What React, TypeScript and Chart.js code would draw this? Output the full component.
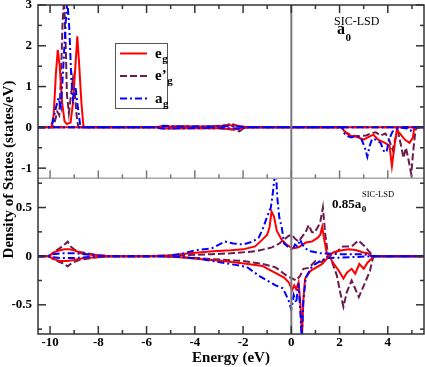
import React, { useEffect, useRef } from 'react';
import { Chart, registerables } from 'chart.js';
Chart.register(...registerables);

type Pt = [number, number];

// ---------- axis ticks ----------
const xMajorTicks = [-10, -8, -6, -4, -2, 0, 2, 4];
const xMinorTicks = [-9, -7, -5, -3, -1, 1, 3, 5];
const topMajorTicks = [-1, 0, 1, 2, 3];
const topMinorTicks = [-0.5, 0.5, 1.5, 2.5];
const botMajorTicks = [-0.5, 0, 0.5];
const botMinorTicks = [-0.75, -0.25, 0.25, 0.75];

// ---------- texts ----------
const xTitle = 'Energy (eV)';
const yTitle = 'Density of States (states/eV)';
const legendMain = ['e', 'e\u2019', 'a'];
const legendSub = ['g', 'g', 'g'];
const topPanelMain = 'a';
const topPanelSub = '0';
const topPanelSup = 'SIC-LSD';
const botPanelMain = '0.85a';
const botPanelSub = '0';
const botPanelSup = 'SIC-LSD';

// ---------- panel a0 (top) : [energy eV, DOS] ----------
const a0EgUp: Pt[] = [[-10.5, 0], [-9.95, 0], [-9.85, 0.3], [-9.76, 1.3], [-9.68, 1.9], [-9.6, 1.5], [-9.5, 0.6], [-9.4, 0.15], [-9.3, 0.08], [-9.15, 0.12], [-9.05, 0.6], [-8.95, 1.5], [-8.87, 2.23], [-8.8, 1.6], [-8.7, 0.6], [-8.62, 0.05], [-8.55, 0], [-5.6, 0], [-5.4, 0.03], [-5.0, 0.02], [-4.5, 0.03], [-4.0, 0.02], [-3.0, 0.03], [-2.6, 0.06], [-2.3, 0.04], [-2.0, 0.02], [-1.8, 0], [5.5, 0]];
const a0EgDn: Pt[] = [[-10.5, 0], [-5.6, 0], [-5.3, -0.03], [-4.5, -0.02], [-3.0, -0.02], [-2.4, -0.05], [-2.1, -0.03], [-1.8, 0], [2.1, 0], [2.2, -0.1], [2.4, -0.2], [2.7, -0.23], [3.0, -0.3], [3.13, -0.26], [3.4, -0.18], [3.6, -0.3], [3.88, -0.38], [4.07, -0.45], [4.17, -0.95], [4.28, -0.45], [4.37, -0.07], [4.5, -0.15], [4.7, -0.3], [4.9, -0.38], [5.04, -0.25], [5.1, 0], [5.5, 0]];
const a0EpgUp: Pt[] = [[-10.5, 0], [-9.9, 0], [-9.8, 0.15], [-9.7, 0.38], [-9.62, 0.3], [-9.55, 1.2], [-9.48, 2.6], [-9.42, 3.1], [-9.36, 2.2], [-9.3, 0.8], [-9.22, 0.35], [-9.15, 0.7], [-9.05, 1.2], [-8.97, 0.8], [-8.9, 0.3], [-8.83, 0], [-5.6, 0], [-5.2, 0.02], [-3.5, 0.02], [-2.7, 0.05], [-2.5, 0.1], [-2.3, 0.05], [-2.0, 0], [5.5, 0]];
const a0EpgDn: Pt[] = [[-10.5, 0], [-5.6, 0], [-5.2, -0.02], [-3.0, -0.02], [-2.3, -0.06], [-2.15, -0.1], [-2.0, -0.03], [-1.8, 0], [2.1, 0], [2.25, -0.12], [2.5, -0.2], [2.8, -0.22], [3.1, -0.2], [3.3, -0.15], [3.5, -0.12], [3.7, -0.2], [3.9, -0.15], [4.05, -0.3], [4.2, -0.55], [4.3, -0.3], [4.42, -0.1], [4.55, -0.45], [4.65, -0.75], [4.75, -0.5], [4.86, -0.8], [4.97, -1.15], [5.05, -0.6], [5.15, -0.05], [5.25, 0], [5.5, 0]];
const a0AgUp: Pt[] = [[-10.5, 0], [-10.05, 0], [-9.9, 0.1], [-9.75, 0.5], [-9.65, 0.72], [-9.55, 0.5], [-9.45, 1.5], [-9.35, 2.6], [-9.28, 3.1], [-9.2, 2.4], [-9.12, 1.2], [-9.05, 0.7], [-8.95, 1.0], [-8.85, 0.5], [-8.75, 0.05], [-8.68, 0], [-5.6, 0], [-5.3, 0.04], [-4.8, 0.02], [-3.5, 0.02], [-2.5, 0.03], [-2.0, 0.01], [-1.8, 0], [5.5, 0]];
const a0AgDn: Pt[] = [[-10.5, 0], [-5.6, 0], [-5.4, -0.03], [-3.0, -0.01], [-2.2, -0.03], [-1.8, 0], [2.1, 0], [2.2, -0.15], [2.35, -0.22], [2.5, -0.25], [2.7, -0.2], [2.9, -0.28], [3.05, -0.5], [3.15, -0.72], [3.25, -0.45], [3.35, -0.28], [3.5, -0.3], [3.7, -0.38], [3.85, -0.6], [3.95, -0.6], [4.05, -0.3], [4.2, -0.1], [4.35, -0.05], [4.5, 0], [4.8, -0.03], [4.95, -0.08], [5.05, 0], [5.5, 0]];

// ---------- panel 0.85 a0 (bottom) ----------
const c85EgUp: Pt[] = [[-10.5, 0], [-10.05, 0], [-9.85, 0.04], [-9.6, 0.06], [-9.4, 0.07], [-9.2, 0.07], [-9.0, 0.06], [-8.6, 0.02], [-8.0, 0.01], [-7.5, 0], [-6.0, 0], [-5.0, 0.01], [-4.2, 0.03], [-3.26, 0.05], [-2.5, 0.06], [-2.0, 0.07], [-1.5, 0.1], [-1.2, 0.17], [-1.0, 0.22], [-0.9, 0.3], [-0.82, 0.46], [-0.72, 0.41], [-0.6, 0.26], [-0.4, 0.17], [-0.2, 0.12], [0.05, 0.08], [0.3, 0.09], [0.6, 0.14], [0.85, 0.15], [1.1, 0.19], [1.2, 0.22], [1.28, 0.3], [1.38, 0.15], [1.48, 0.02], [1.55, 0], [1.75, 0.04], [2.1, 0.06], [2.4, 0.07], [2.7, 0.06], [2.95, 0.04], [3.15, 0.03], [3.35, 0], [5.5, 0]];
const c85EgDn: Pt[] = [[-10.5, 0], [-10.05, 0], [-9.85, -0.03], [-9.6, -0.05], [-9.3, -0.05], [-9.0, -0.04], [-8.6, -0.02], [-8.0, -0.01], [-7.5, 0], [-5.5, 0], [-4.6, -0.01], [-3.8, -0.03], [-2.8, -0.05], [-1.8, -0.08], [-1.2, -0.1], [-0.9, -0.14], [-0.6, -0.18], [-0.3, -0.22], [-0.1, -0.27], [0.03, -0.35], [0.12, -0.3], [0.2, -0.34], [0.3, -0.27], [0.38, -0.5], [0.44, -0.85], [0.5, -0.45], [0.57, -0.23], [0.8, -0.15], [1.28, -0.08], [1.5, -0.02], [1.6, -0.01], [1.76, -0.08], [1.97, -0.15], [2.16, -0.23], [2.3, -0.17], [2.5, -0.13], [2.65, -0.18], [2.82, -0.08], [3.0, -0.13], [3.15, -0.07], [3.3, -0.03], [3.4, 0], [5.5, 0]];
const c85EpgUp: Pt[] = [[-10.5, 0], [-10.05, 0], [-9.8, 0.05], [-9.55, 0.09], [-9.35, 0.13], [-9.27, 0.15], [-9.15, 0.1], [-8.9, 0.05], [-8.5, 0.03], [-8.0, 0.01], [-7.5, 0], [-6.0, 0], [-4.5, 0.01], [-3.3, 0.02], [-2.5, 0.03], [-1.5, 0.05], [-0.8, 0.09], [-0.5, 0.13], [-0.3, 0.17], [-0.1, 0.21], [0.02, 0.22], [0.15, 0.18], [0.3, 0.15], [0.45, 0.2], [0.6, 0.25], [0.72, 0.32], [0.85, 0.25], [0.95, 0.24], [1.1, 0.3], [1.2, 0.35], [1.31, 0.5], [1.4, 0.24], [1.5, 0.05], [1.55, 0], [1.85, 0.04], [2.15, 0.1], [2.5, 0.1], [2.78, 0.16], [3.05, 0.1], [3.25, 0.04], [3.4, 0], [5.5, 0]];
const c85EpgDn: Pt[] = [[-10.5, 0], [-10.05, 0], [-9.8, -0.04], [-9.5, -0.07], [-9.27, -0.105], [-9.1, -0.07], [-8.8, -0.04], [-8.3, -0.02], [-7.8, 0], [-5.5, 0], [-4.5, -0.01], [-3.3, -0.03], [-2.0, -0.05], [-1.2, -0.08], [-0.65, -0.115], [-0.2, -0.2], [0.05, -0.23], [0.2, -0.25], [0.37, -0.2], [0.5, -0.13], [0.73, -0.12], [1.0, -0.05], [1.27, -0.06], [1.4, -0.01], [1.6, 0], [1.89, -0.2], [2.05, -0.4], [2.16, -0.52], [2.3, -0.37], [2.5, -0.25], [2.71, -0.37], [2.8, -0.42], [3.06, -0.27], [3.26, -0.15], [3.4, 0], [5.5, 0]];
const c85AgUp: Pt[] = [[-10.5, 0], [-10.1, 0], [-9.9, 0.02], [-9.5, 0.03], [-9.0, 0.03], [-8.5, 0.02], [-7.8, 0], [-5.2, 0], [-4.6, 0.02], [-4.0, 0.06], [-3.3, 0.08], [-2.75, 0.15], [-2.4, 0.13], [-2.0, 0.12], [-1.6, 0.15], [-1.35, 0.19], [-1.15, 0.3], [-1.0, 0.41], [-0.85, 0.5], [-0.78, 0.62], [-0.7, 0.8], [-0.65, 0.92], [-0.58, 0.6], [-0.5, 0.4], [-0.4, 0.3], [-0.3, 0.13], [-0.15, 0.1], [0.05, 0.06], [0.15, 0.12], [0.25, 0.1], [0.37, 0.17], [0.45, 0.12], [0.58, 0.08], [0.8, 0.05], [1.2, 0.03], [2.0, 0.02], [3.0, 0.02], [3.4, 0], [5.5, 0]];
const c85AgDn: Pt[] = [[-10.5, 0], [-10.1, 0], [-9.9, -0.01], [-9.5, -0.02], [-9.0, -0.02], [-8.5, -0.01], [-7.8, 0], [-5.2, 0], [-4.5, -0.01], [-3.7, -0.03], [-2.9, -0.065], [-1.85, -0.11], [-1.35, -0.2], [-1.0, -0.25], [-0.65, -0.3], [-0.35, -0.33], [-0.12, -0.45], [0.0, -0.55], [0.1, -0.4], [0.2, -0.48], [0.3, -0.28], [0.38, -0.6], [0.43, -0.85], [0.5, -0.45], [0.6, -0.22], [0.87, -0.1], [1.2, -0.05], [1.5, -0.02], [2.5, -0.01], [3.4, 0], [5.5, 0]];

const FONT = "'Liberation Serif', 'Times New Roman', serif";
const RED = '#ff0000';
const PURPLE = '#6a1b4d';
const BLUE = '#0000ff';
const DASH_EPG = [7, 3];
const DASH_AG = [7, 3, 2, 3];

function mk(label: string, pts: Pt[], color: string, dash: number[], yAxisID: string, order: number) {
  return {
    label,
    data: pts.map(([x, y]) => ({ x, y })),
    borderColor: color,
    backgroundColor: color,
    borderWidth: 2,
    borderDash: dash,
    pointRadius: 0,
    tension: 0,
    fill: false,
    yAxisID,
    xAxisID: 'x',
    order,
  };
}

function drawSub(ctx: CanvasRenderingContext2D, main: string, sub: string, x: number, base: number, mainFont: string, subFont: string, subDrop: number) {
  ctx.font = mainFont;
  ctx.textBaseline = 'alphabetic';
  ctx.textAlign = 'left';
  ctx.fillText(main, x, base);
  const w = ctx.measureText(main).width;
  ctx.font = subFont;
  ctx.fillText(sub, x + w + 0.5, base + subDrop);
  return x + w;
}

const decorPlugin = {
  id: 'decor',
  afterDatasetsDraw(chart: any) {
    const { ctx, chartArea: ca, scales } = chart;
    const sx = scales.x, s1 = scales.y1, s2 = scales.y2;
    const line = (a: number, b: number, c: number, d: number) => {
      ctx.beginPath(); ctx.moveTo(a, b); ctx.lineTo(c, d); ctx.stroke();
    };
    ctx.save();
    // E = 0 line
    const x0 = sx.getPixelForValue(0);
    ctx.lineWidth = 2; ctx.strokeStyle = '#7a7a7a';
    line(x0, ca.top, x0, ca.bottom);
    // panel boundary
    const yb = s1.getPixelForValue(s1.min);
    ctx.lineWidth = 1.5; ctx.strokeStyle = '#a8a8a8';
    line(ca.left, yb, ca.right, yb);
    // frame
    ctx.strokeStyle = '#333'; ctx.lineWidth = 1.5;
    ctx.strokeRect(ca.left, ca.top, ca.right - ca.left, ca.bottom - ca.top);
    // x ticks
    const xt = (vals: number[], len: number) => {
      vals.forEach(v => {
        const p = sx.getPixelForValue(v);
        ctx.strokeStyle = '#333';
        line(p, ca.bottom, p, ca.bottom - len);
        line(p, ca.top, p, ca.top + len);
        ctx.strokeStyle = '#777';
        line(p, yb, p, yb - len);
      });
    };
    xt(xMajorTicks, 8); xt(xMinorTicks, 4);
    ctx.strokeStyle = '#333';
    const yt = (s: any, vals: number[], len: number) => {
      vals.forEach(v => {
        const p = s.getPixelForValue(v);
        line(ca.left, p, ca.left + len, p);
        line(ca.right, p, ca.right - len, p);
      });
    };
    yt(s1, topMajorTicks, 8); yt(s1, topMinorTicks, 4);
    yt(s2, botMajorTicks, 8); yt(s2, botMinorTicks, 4);
    ctx.restore();
  },
  afterDraw(chart: any) {
    const { ctx, chartArea: ca } = chart;
    ctx.save();
    ctx.fillStyle = '#000';
    // axis titles
    ctx.font = `bold 15px ${FONT}`;
    ctx.textAlign = 'center';
    ctx.textBaseline = 'alphabetic';
    ctx.fillText(xTitle, (ca.left + ca.right) / 2, 362);
    ctx.save();
    ctx.translate(13, (ca.top + ca.bottom) / 2);
    ctx.rotate(-Math.PI / 2);
    ctx.fillText(yTitle, 0, 0);
    ctx.restore();
    // legend
    const lx = ca.left + 77, ly = ca.top + 38, lw = 52, lh = 65;
    ctx.fillStyle = '#fff';
    ctx.fillRect(lx, ly, lw, lh);
    ctx.strokeStyle = '#555'; ctx.lineWidth = 1;
    ctx.strokeRect(lx + 0.5, ly + 0.5, lw, lh);
    const cols = [RED, PURPLE, BLUE];
    const dashes = [[], DASH_EPG, DASH_AG];
    legendMain.forEach((m, i) => {
      const yy = ly + 10.5 + i * 22.5;
      ctx.strokeStyle = cols[i]; ctx.lineWidth = 2; ctx.setLineDash(dashes[i]);
      ctx.beginPath(); ctx.moveTo(lx + 5, yy); ctx.lineTo(lx + 32, yy); ctx.stroke();
      ctx.setLineDash([]);
      ctx.fillStyle = '#000';
      drawSub(ctx, m, legendSub[i], lx + 40, yy + 4, `bold 15px ${FONT}`, `bold 11px ${FONT}`, 4);
    });
    // panel annotations
    ctx.fillStyle = '#000';
    ctx.font = `12px ${FONT}`; ctx.textAlign = 'left'; ctx.textBaseline = 'alphabetic';
    ctx.fillText(topPanelSup, ca.left + 296, ca.top + 20);
    drawSub(ctx, topPanelMain, topPanelSub, ca.left + 299, ca.top + 28.5, `bold 16px ${FONT}`, `bold 11px ${FONT}`, 7);
    ctx.font = `8.5px ${FONT}`;
    ctx.fillText(botPanelSup, ca.left + 324, ca.top + 192);
    drawSub(ctx, botPanelMain, botPanelSub, ca.left + 294, ca.top + 203, `bold 13px ${FONT}`, `bold 9px ${FONT}`, 4);
    ctx.restore();
  },
};

export default function App() {
  const ref = useRef<HTMLCanvasElement>(null);
  useEffect(() => {
    if (!ref.current) return;
    const tickFont = { family: FONT, size: 13, weight: 'bold' as const };
    const fitY = (s: any) => { s.width = 38; s.paddingTop = 0; s.paddingBottom = 0; };
    const chart = new Chart(ref.current, {
      type: 'line',
      data: {
        datasets: [
          mk('a0 eg up', a0EgUp, RED, [], 'y1', 1),
          mk('a0 eg dn', a0EgDn, RED, [], 'y1', 1),
          mk("a0 e'g up", a0EpgUp, PURPLE, DASH_EPG, 'y1', 2),
          mk("a0 e'g dn", a0EpgDn, PURPLE, DASH_EPG, 'y1', 2),
          mk('a0 ag up', a0AgUp, BLUE, DASH_AG, 'y1', 0),
          mk('a0 ag dn', a0AgDn, BLUE, DASH_AG, 'y1', 0),
          mk('0.85a0 eg up', c85EgUp, RED, [], 'y2', 1),
          mk('0.85a0 eg dn', c85EgDn, RED, [], 'y2', 1),
          mk("0.85a0 e'g up", c85EpgUp, PURPLE, DASH_EPG, 'y2', 2),
          mk("0.85a0 e'g dn", c85EpgDn, PURPLE, DASH_EPG, 'y2', 2),
          mk('0.85a0 ag up', c85AgUp, BLUE, DASH_AG, 'y2', 0),
          mk('0.85a0 ag dn', c85AgDn, BLUE, DASH_AG, 'y2', 0),
        ] as any,
      },
      options: {
        animation: false,
        responsive: true,
        maintainAspectRatio: false,
        layout: { padding: { top: 5, right: 1, left: 0, bottom: 0 } },
        plugins: { legend: { display: false }, tooltip: { enabled: false } },
        scales: {
          x: {
            type: 'linear', position: 'bottom', min: -10.5, max: 5.5,
            grid: { display: false, drawTicks: false }, border: { display: false },
            ticks: { font: tickFont, color: '#000', padding: 1, maxRotation: 0, autoSkip: false, callback: (v: any) => String(v) },
            afterBuildTicks: (s: any) => { s.ticks = xMajorTicks.map(value => ({ value })); },
            afterFit: (s: any) => { s.height = 33; s.paddingLeft = 0; s.paddingRight = 0; },
          },
          y2: {
            type: 'linear', position: 'left', stack: 'panels', stackWeight: 155.8, min: -0.8, max: 0.8,
            grid: { display: false, drawTicks: false }, border: { display: false },
            ticks: { font: tickFont, color: '#000', padding: 6, autoSkip: false, callback: (v: any) => String(v) },
            afterBuildTicks: (s: any) => { s.ticks = botMajorTicks.map(value => ({ value })); },
            afterFit: fitY,
          },
          y1: {
            type: 'linear', position: 'left', stack: 'panels', stackWeight: 173.5, min: -1.25, max: 3,
            grid: { display: false, drawTicks: false }, border: { display: false },
            ticks: { font: tickFont, color: '#000', padding: 6, autoSkip: false, callback: (v: any) => String(v) },
            afterBuildTicks: (s: any) => { s.ticks = topMajorTicks.map(value => ({ value })); },
            afterFit: fitY,
          },
        } as any,
      },
      plugins: [decorPlugin],
    });
    return () => chart.destroy();
  }, []);
  return (
    <div style={{ position: 'fixed', left: 0, top: 0, width: 425, height: 367, background: '#fff' }}>
      <canvas ref={ref} />
    </div>
  );
}
